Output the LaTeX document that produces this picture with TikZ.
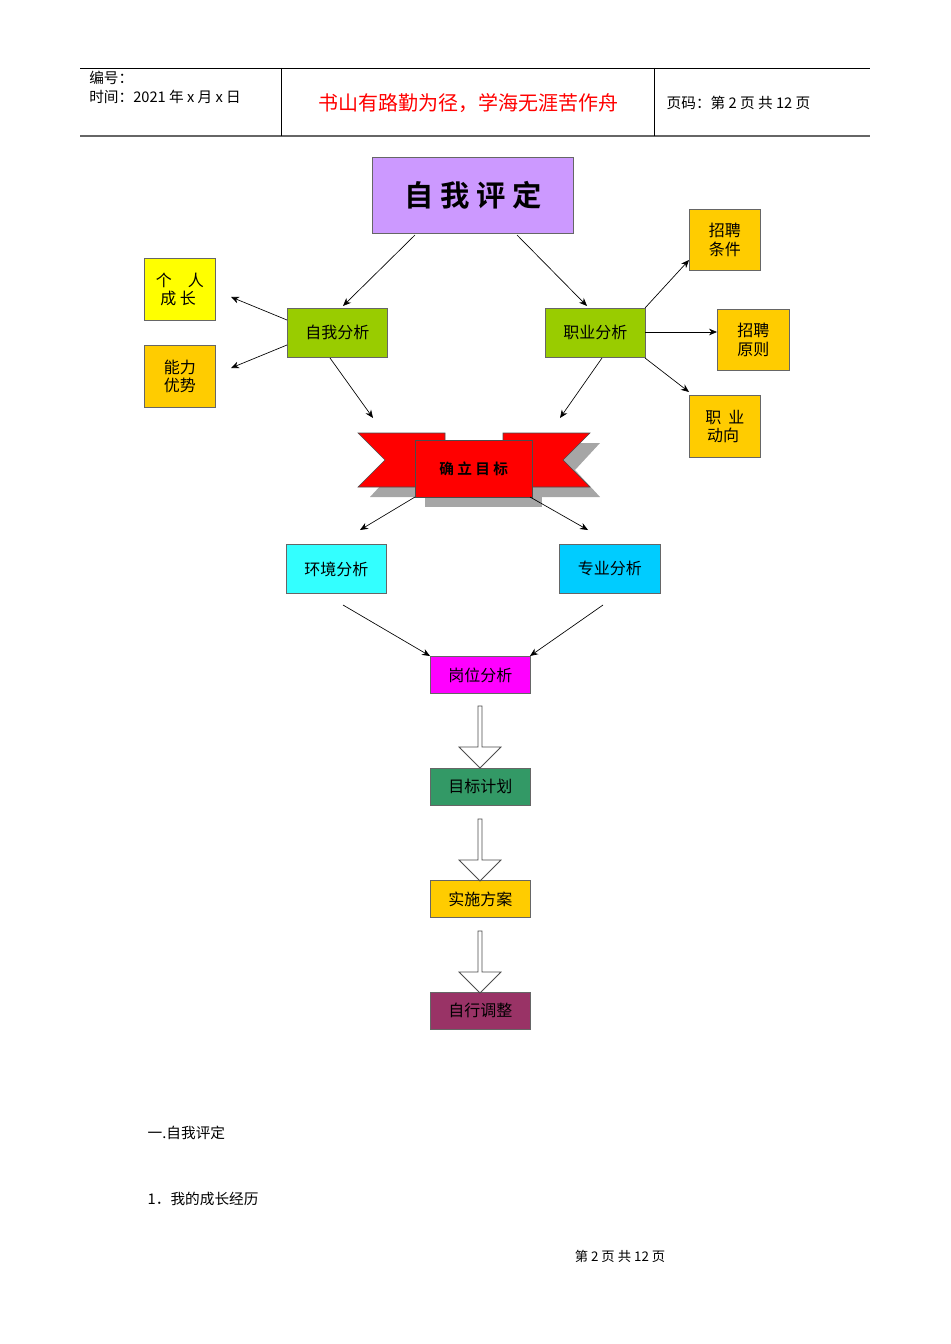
\documentclass[tikz,border=0pt]{standalone}
\usepackage{fontspec}
\setmainfont{Noto Sans CJK SC}
\newfontfamily\cjkb{Noto Sans CJK SC Bold}
\usetikzlibrary{arrows.meta,shapes.arrows}
\definecolor{lav}{HTML}{CC99FF}
\definecolor{ylw}{HTML}{FFFF00}
\definecolor{org}{HTML}{FFCC00}
\definecolor{grn}{HTML}{99CC00}
\definecolor{cy1}{HTML}{33FFFF}
\definecolor{cy2}{HTML}{00CCFF}
\definecolor{mag}{HTML}{FF00FF}
\definecolor{dgr}{HTML}{339966}
\definecolor{plm}{HTML}{993366}
\begin{document}
\begin{tikzpicture}[x=0.75pt,y=-0.75pt,
  box/.style={draw=black!60,line width=0.6pt,anchor=north west,inner sep=0,font=\fontsize{12}{14}\selectfont,align=center},
  arr/.style={-{Stealth[length=6pt,width=5pt]},line width=0.5pt},
  barr/.style={draw=black!70,fill=white,single arrow,shape border rotate=270,minimum width=42pt*0.75,single arrow head extend=3pt,single arrow tip angle=90,minimum height=62*0.75pt,inner sep=0,line width=0.6pt}]
\useasboundingbox (0,0) rectangle (950,1344);
% header
\draw[line width=0.7pt] (80,68) -- (870,68);
\draw[line width=1pt,black!60] (80,136) -- (870,136);
\draw (281,68) -- (281,136) (654,68) -- (654,136);
\node[anchor=north west,align=left,inner sep=0,font=\fontsize{11}{14}\selectfont] (hl) at (89,71) {编号：\\时间：2021 年 x 月 x 日};
\node[text=red,font=\fontsize{15}{18}\selectfont] (ht) at (468,103) {书山有路勤为径，学海无涯苦作舟};
\node[anchor=west,font=\fontsize{11}{14}\selectfont] (hr) at (662,103) {页码：第 2 页 共 12 页};
% boxes
\node[box,fill=lav,minimum width=201*0.75pt,minimum height=76*0.75pt,font=\cjkb\fontsize{22}{24}\selectfont] (zwpd) at (372,157) {自 我 评 定};
\node[box,fill=ylw,minimum width=71*0.75pt,minimum height=62*0.75pt] (grcz) at (144,258) {个\quad 人\\成\ 长\ \ };
\node[box,fill=org,minimum width=71*0.75pt,minimum height=62*0.75pt] (nlys) at (144,345) {能力\\优势};
\node[box,fill=grn,minimum width=100*0.75pt,minimum height=49*0.75pt] (zwfx) at (287,308) {自我分析};
\node[box,fill=grn,minimum width=100*0.75pt,minimum height=49*0.75pt] (zyfx) at (545,308) {职业分析};
\node[box,fill=org,minimum width=71*0.75pt,minimum height=61*0.75pt] (zptj) at (689,209) {招聘\\条件};
\node[box,fill=org,minimum width=72*0.75pt,minimum height=61*0.75pt] (zpyz) at (717,309) {招聘\\原则};
\node[box,fill=org,minimum width=71*0.75pt,minimum height=62*0.75pt] (zydx) at (689,395) {职\ \ 业\\动向\ \ };
% ribbon
\fill[gray!70] (370,443) -- (455,443) -- (455,497) -- (370,497) -- (395,470) -- cycle;
\fill[gray!70] (600,443) -- (515,443) -- (515,497) -- (600,497) -- (575,470) -- cycle;
\fill[gray!70] (425,450) rectangle (542,507);
\draw[fill=red,draw=black!70] (358,433) -- (445,433) -- (445,487) -- (358,487) -- (385,460) -- cycle;
\draw[fill=red,draw=black!70] (590,433) -- (503,433) -- (503,487) -- (590,487) -- (563,460) -- cycle;
\node[draw=black!70,fill=red,anchor=north west,minimum width=117*0.75pt,minimum height=57*0.75pt,inner sep=0,font=\cjkb\fontsize{11}{12}\selectfont] (qlmb) at (415,440) {确 立 目 标};
% second row
\node[box,fill=cy1,minimum width=100*0.75pt,minimum height=49*0.75pt] (hjfx) at (286,544) {环境分析};
\node[box,fill=cy2,minimum width=101*0.75pt,minimum height=49*0.75pt] (zhfx) at (559,544) {专业分析};
\node[box,fill=mag,minimum width=100*0.75pt,minimum height=37*0.75pt] (gwfx) at (430,656) {岗位分析};
\node[box,fill=dgr,minimum width=100*0.75pt,minimum height=37*0.75pt] (mbjh) at (430,768) {目标计划};
\node[box,fill=org,minimum width=100*0.75pt,minimum height=37*0.75pt] (ssfa) at (430,880) {实施方案};
\node[box,fill=plm,minimum width=100*0.75pt,minimum height=37*0.75pt] (zxtz) at (430,992) {自行调整};
% arrows
\coordinate (a1) at (415,235); \coordinate (a2) at (343,306);
\coordinate (b1) at (517,235); \coordinate (b2) at (587,306);
\draw[arr] (a1) -- (a2); \draw[arr] (b1) -- (b2);
\draw[arr] (287,320) -- (231,297);
\draw[arr] (287,345) -- (231,368);
\draw[arr] (330,358) -- (373,418);
\draw[arr] (602,358) -- (560,418);
\draw[arr] (645,308) -- (689,260);
\draw[arr] (645,332) -- (717,332);
\draw[arr] (645,358) -- (689,392);
\draw[arr] (415,497) -- (360,530);
\draw[arr] (530,497) -- (588,530);
\draw[arr] (343,605) -- (430,656);
\draw[arr] (603,605) -- (530,656);
\node[barr] (d1) at (480,736) {};
\node[barr] (d2) at (480,849) {};
\node[barr] (d3) at (480,961) {};
% body text
\node[anchor=west,font=\fontsize{11}{14}\selectfont] (t1) at (143,1133) {一.自我评定};
\node[anchor=west,font=\fontsize{11}{14}\selectfont] (t2) at (143,1199) {1．我的成长经历};
\node[font=\fontsize{10}{12}\selectfont] (ft) at (620,1256) {第 2 页 共 12 页};
\end{tikzpicture}
\end{document}
